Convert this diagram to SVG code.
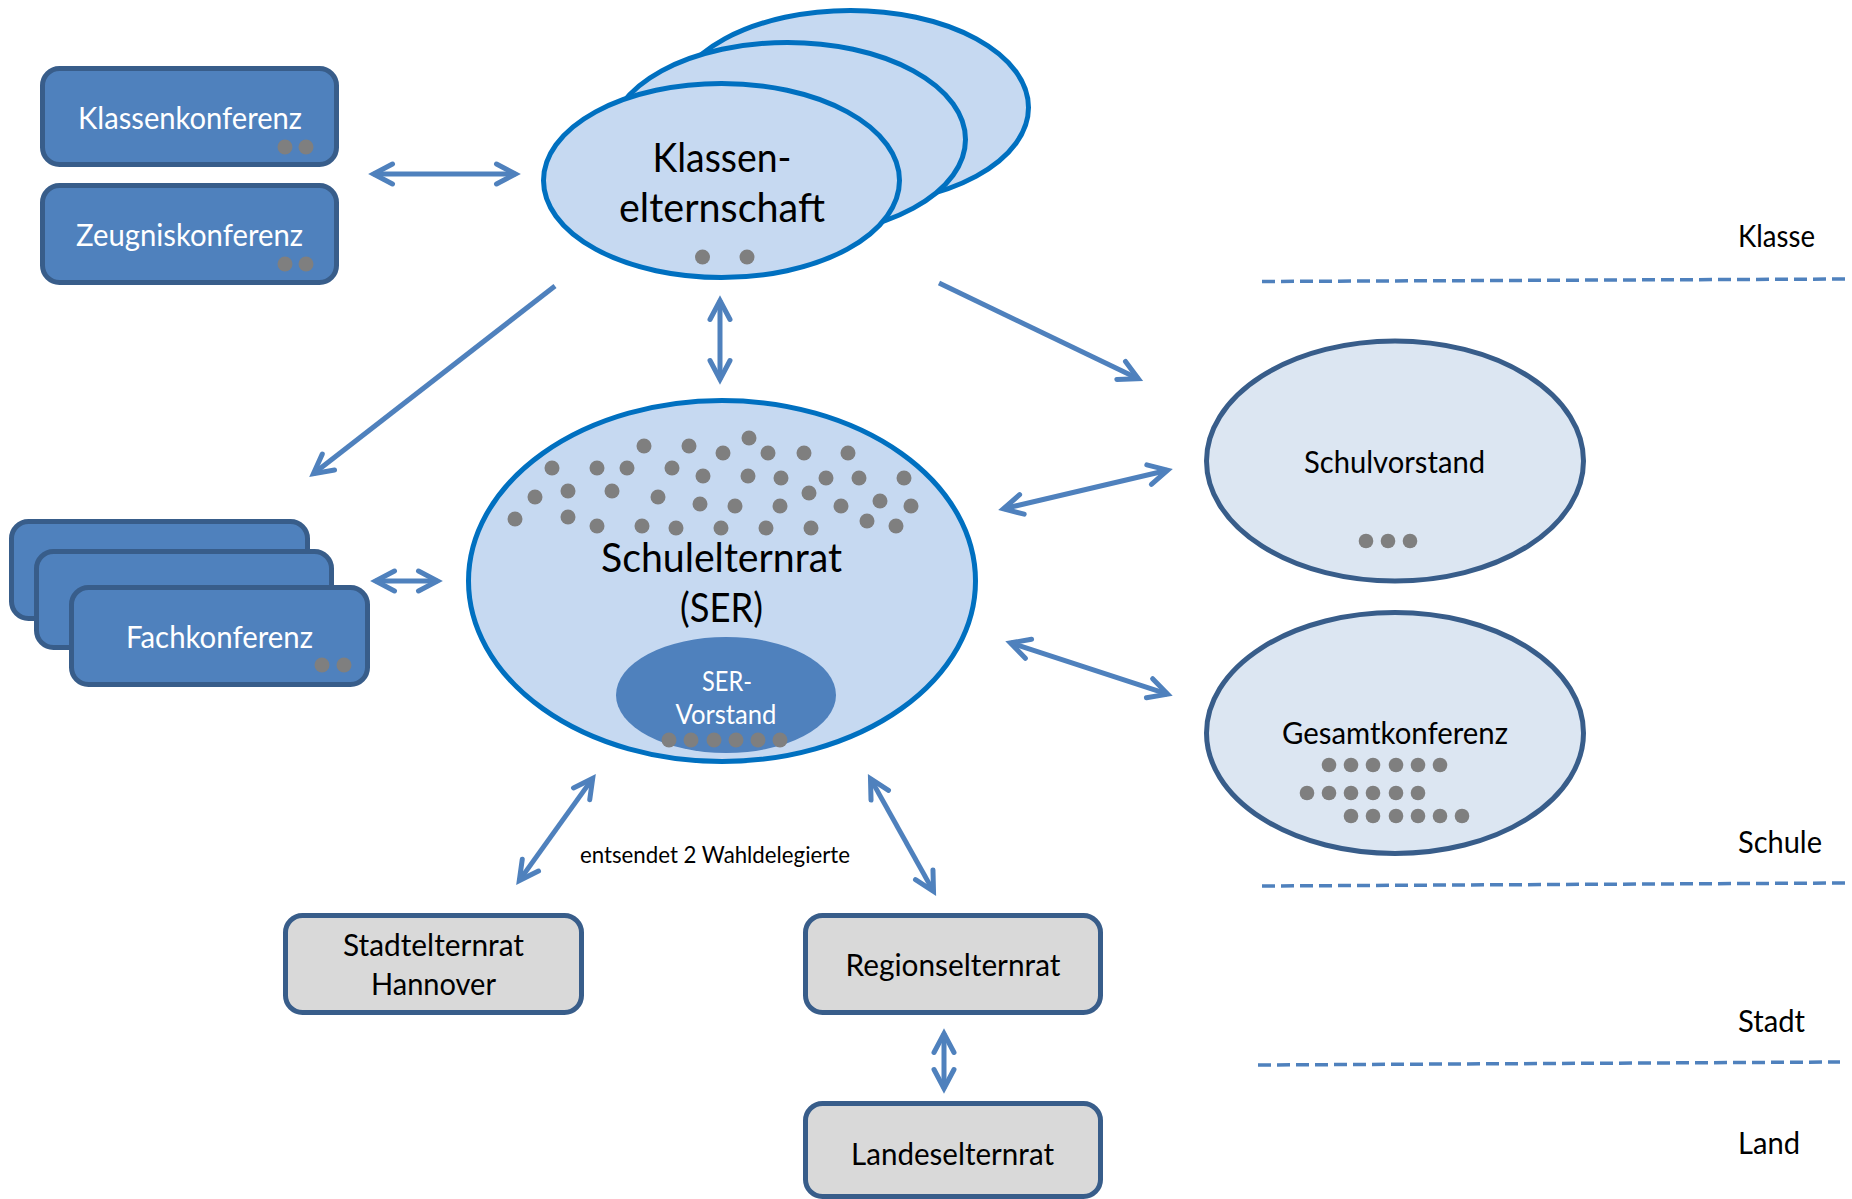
<svg xmlns="http://www.w3.org/2000/svg" width="1852" height="1199" viewBox="0 0 1852 1199">
<style>
text{font-family:Lato,"Open Sans","Liberation Sans",sans-serif;text-anchor:middle;fill:#000}
.w{fill:#fff}
.blue{fill:#4F81BD;stroke:#385D8A;stroke-width:5}
.grey{fill:#D9D9D9;stroke:#385D8A;stroke-width:5}
.ke{fill:#C6D9F1;stroke:#0070C0;stroke-width:5}
.se{fill:#DCE6F2;stroke:#385D8A;stroke-width:5}
.dot{fill:#7F7F7F}
.conn line{stroke:#4F81BD;stroke-width:5;stroke-linecap:butt;fill:none}
.dash{stroke:#4F81BD;stroke-width:3.5;stroke-dasharray:13 6;fill:none}
.lvl{text-anchor:start;font-size:30px}
</style>
<defs>
<marker id="ah" markerUnits="userSpaceOnUse" viewBox="-25 -15 30 30" refX="0" refY="0" markerWidth="30" markerHeight="30" orient="auto-start-reverse" overflow="visible">
<path d="M-19,-10 L0,0 L-19,10" fill="none" stroke="#4F81BD" stroke-width="5" stroke-linecap="round" stroke-linejoin="miter" stroke-miterlimit="10"/>
</marker>
</defs>

<g id="levels">
<line class="dash" x1="1262" y1="281.5" x2="1845" y2="279"/>
<line class="dash" x1="1262" y1="886" x2="1845" y2="883"/>
<line class="dash" x1="1258" y1="1065" x2="1840" y2="1062"/>
<text class="lvl" x="1738" y="247" textLength="77" lengthAdjust="spacingAndGlyphs">Klasse</text>
<text class="lvl" x="1738" y="853" textLength="84" lengthAdjust="spacingAndGlyphs">Schule</text>
<text class="lvl" x="1738" y="1032" textLength="67" lengthAdjust="spacingAndGlyphs">Stadt</text>
<text class="lvl" x="1738" y="1154" textLength="62" lengthAdjust="spacingAndGlyphs">Land</text>
</g>

<g id="klassenkonferenz">
<rect class="blue" x="42.5" y="68.5" width="294" height="96" rx="17"/>
<text class="w" x="190" y="129" font-size="30" textLength="224" lengthAdjust="spacingAndGlyphs">Klassenkonferenz</text>
<circle class="dot" cx="285" cy="147" r="7.5"/><circle class="dot" cx="306" cy="147" r="7.5"/>
</g>

<g id="zeugniskonferenz">
<rect class="blue" x="42.5" y="185.5" width="294" height="97" rx="17"/>
<text class="w" x="189.5" y="246" font-size="30" textLength="227" lengthAdjust="spacingAndGlyphs">Zeugniskonferenz</text>
<circle class="dot" cx="285" cy="264" r="7.5"/><circle class="dot" cx="306" cy="264" r="7.5"/>
</g>

<g id="fachkonferenz">
<rect class="blue" x="11.5" y="521.5" width="296" height="97" rx="17"/>
<rect class="blue" x="36.5" y="551.5" width="295" height="96" rx="17"/>
<rect class="blue" x="71.5" y="587.5" width="296" height="97" rx="17"/>
<text class="w" x="219.5" y="648" font-size="30" textLength="187" lengthAdjust="spacingAndGlyphs">Fachkonferenz</text>
<circle class="dot" cx="322" cy="665" r="7.5"/><circle class="dot" cx="344" cy="665" r="7.5"/>
</g>

<g id="klassenelternschaft">
<ellipse class="ke" cx="850.5" cy="107.5" rx="178" ry="97"/>
<ellipse class="ke" cx="787.5" cy="139.5" rx="178" ry="97"/>
<ellipse class="ke" cx="721.5" cy="180.5" rx="178" ry="97"/>
<text x="722" y="172" font-size="41" textLength="139" lengthAdjust="spacingAndGlyphs">Klassen-</text>
<text x="722" y="222" font-size="41" textLength="206" lengthAdjust="spacingAndGlyphs">elternschaft</text>
<circle class="dot" cx="702.5" cy="257" r="7.5"/><circle class="dot" cx="747" cy="257" r="7.5"/>
</g>

<g id="schulelternrat">
<ellipse class="ke" cx="722" cy="581" rx="253.5" ry="180.5"/>
<g>
<circle class="dot" cx="644" cy="446" r="7.5"/><circle class="dot" cx="689" cy="446" r="7.5"/><circle class="dot" cx="749" cy="438" r="7.5"/>
<circle class="dot" cx="723" cy="453" r="7.5"/><circle class="dot" cx="768" cy="453" r="7.5"/><circle class="dot" cx="804" cy="453" r="7.5"/><circle class="dot" cx="848" cy="453" r="7.5"/>
<circle class="dot" cx="552" cy="468" r="7.5"/><circle class="dot" cx="597" cy="468" r="7.5"/><circle class="dot" cx="627" cy="468" r="7.5"/><circle class="dot" cx="672" cy="468" r="7.5"/>
<circle class="dot" cx="703" cy="476" r="7.5"/><circle class="dot" cx="748" cy="476" r="7.5"/><circle class="dot" cx="781" cy="478" r="7.5"/><circle class="dot" cx="826" cy="478" r="7.5"/><circle class="dot" cx="859" cy="478" r="7.5"/><circle class="dot" cx="904" cy="478" r="7.5"/>
<circle class="dot" cx="535" cy="497" r="7.5"/><circle class="dot" cx="568" cy="491" r="7.5"/><circle class="dot" cx="612" cy="491" r="7.5"/><circle class="dot" cx="658" cy="497" r="7.5"/><circle class="dot" cx="809" cy="493" r="7.5"/>
<circle class="dot" cx="700" cy="504" r="7.5"/><circle class="dot" cx="735" cy="506" r="7.5"/><circle class="dot" cx="780" cy="506" r="7.5"/><circle class="dot" cx="841" cy="506" r="7.5"/><circle class="dot" cx="880" cy="501" r="7.5"/><circle class="dot" cx="911" cy="506" r="7.5"/>
<circle class="dot" cx="515" cy="519" r="7.5"/><circle class="dot" cx="568" cy="517" r="7.5"/><circle class="dot" cx="597" cy="526" r="7.5"/><circle class="dot" cx="642" cy="526" r="7.5"/><circle class="dot" cx="676" cy="528" r="7.5"/>
<circle class="dot" cx="721" cy="528" r="7.5"/><circle class="dot" cx="766" cy="528" r="7.5"/><circle class="dot" cx="811" cy="528" r="7.5"/><circle class="dot" cx="867" cy="521" r="7.5"/><circle class="dot" cx="896" cy="526" r="7.5"/>
</g>
<text x="721.5" y="572" font-size="41" textLength="241" lengthAdjust="spacingAndGlyphs">Schulelternrat</text>
<text x="721.5" y="622" font-size="41" textLength="83" lengthAdjust="spacingAndGlyphs">(SER)</text>
</g>

<g id="ser-vorstand">
<ellipse cx="726" cy="695" rx="110" ry="58" fill="#4F81BD"/>
<text class="w" x="727" y="691" font-size="27" textLength="50" lengthAdjust="spacingAndGlyphs">SER-</text>
<text class="w" x="726" y="724" font-size="27" textLength="101" lengthAdjust="spacingAndGlyphs">Vorstand</text>
<circle class="dot" cx="669" cy="740" r="7.5"/><circle class="dot" cx="691" cy="740" r="7.5"/><circle class="dot" cx="714" cy="740" r="7.5"/><circle class="dot" cx="736" cy="740" r="7.5"/><circle class="dot" cx="758" cy="740" r="7.5"/><circle class="dot" cx="780" cy="740" r="7.5"/>
</g>

<g id="schulvorstand">
<ellipse class="se" cx="1395" cy="461" rx="188.5" ry="120"/>
<text x="1394.5" y="473" font-size="30" textLength="181" lengthAdjust="spacingAndGlyphs">Schulvorstand</text>
<circle class="dot" cx="1366" cy="541" r="7.3"/><circle class="dot" cx="1388" cy="541" r="7.3"/><circle class="dot" cx="1410" cy="541" r="7.3"/>
</g>

<g id="gesamtkonferenz">
<ellipse class="se" cx="1395" cy="733" rx="188.5" ry="120.5"/>
<text x="1395" y="744" font-size="30" textLength="226" lengthAdjust="spacingAndGlyphs">Gesamtkonferenz</text>
<circle class="dot" cx="1329" cy="765" r="7.3"/><circle class="dot" cx="1351" cy="765" r="7.3"/><circle class="dot" cx="1373" cy="765" r="7.3"/><circle class="dot" cx="1396" cy="765" r="7.3"/><circle class="dot" cx="1418" cy="765" r="7.3"/><circle class="dot" cx="1440" cy="765" r="7.3"/>
<circle class="dot" cx="1307" cy="793" r="7.3"/><circle class="dot" cx="1329" cy="793" r="7.3"/><circle class="dot" cx="1351" cy="793" r="7.3"/><circle class="dot" cx="1373" cy="793" r="7.3"/><circle class="dot" cx="1396" cy="793" r="7.3"/><circle class="dot" cx="1418" cy="793" r="7.3"/>
<circle class="dot" cx="1351" cy="816" r="7.3"/><circle class="dot" cx="1373" cy="816" r="7.3"/><circle class="dot" cx="1396" cy="816" r="7.3"/><circle class="dot" cx="1418" cy="816" r="7.3"/><circle class="dot" cx="1440" cy="816" r="7.3"/><circle class="dot" cx="1462" cy="816" r="7.3"/>
</g>

<g id="stadtelternrat">
<rect class="grey" x="285.5" y="915.5" width="296" height="97" rx="17"/>
<text x="433.5" y="956" font-size="30" textLength="181" lengthAdjust="spacingAndGlyphs">Stadtelternrat</text>
<text x="433.5" y="995" font-size="30" textLength="125" lengthAdjust="spacingAndGlyphs">Hannover</text>
</g>

<g id="regionselternrat">
<rect class="grey" x="805.5" y="915.5" width="295" height="97" rx="17"/>
<text x="953" y="976" font-size="30" textLength="215" lengthAdjust="spacingAndGlyphs">Regionselternrat</text>
</g>

<g id="landeselternrat">
<rect class="grey" x="805.5" y="1103.5" width="295" height="93" rx="17"/>
<text x="952.5" y="1165" font-size="30" textLength="203" lengthAdjust="spacingAndGlyphs">Landeselternrat</text>
</g>

<g id="connectors" class="conn">
<line x1="373.5" y1="174" x2="515.5" y2="174" marker-start="url(#ah)" marker-end="url(#ah)"/>
<line x1="555" y1="286" x2="313.4" y2="473.7" marker-end="url(#ah)"/>
<line x1="720" y1="300.5" x2="720" y2="379.5" marker-start="url(#ah)" marker-end="url(#ah)"/>
<line x1="939" y1="283" x2="1138.3" y2="378.7" marker-end="url(#ah)"/>
<line x1="1003.4" y1="508.8" x2="1167.6" y2="470.2" marker-start="url(#ah)" marker-end="url(#ah)"/>
<line x1="1010.4" y1="642.9" x2="1167.6" y2="694.1" marker-start="url(#ah)" marker-end="url(#ah)"/>
<line x1="375.5" y1="581" x2="437.5" y2="581" marker-start="url(#ah)" marker-end="url(#ah)"/>
<line x1="592.7" y1="778.4" x2="519.3" y2="880.6" marker-start="url(#ah)" marker-end="url(#ah)"/>
<line x1="870.5" y1="778.6" x2="933.5" y2="891.4" marker-start="url(#ah)" marker-end="url(#ah)"/>
<line x1="944" y1="1033.5" x2="944" y2="1088.5" marker-start="url(#ah)" marker-end="url(#ah)"/>
<text x="715" y="863" font-size="23" textLength="270" lengthAdjust="spacingAndGlyphs">entsendet 2 Wahldelegierte</text>
</g>
</svg>
